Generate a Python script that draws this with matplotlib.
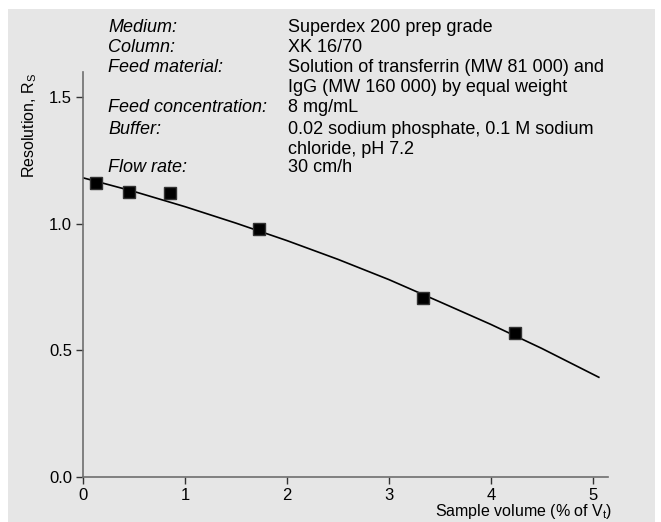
import matplotlib.pyplot as plt
from matplotlib.patches import Rectangle

# measured points
sample_vol = [0.125, 0.454, 0.85, 1.725, 3.34, 4.235]
resolution = [1.163, 1.126, 1.122, 0.978, 0.708, 0.568]

# fitted curve
fit_x = [0, 0.5, 1.0, 1.5, 2.0, 2.5, 3.0, 3.5, 4.0, 4.5, 5.06]
fit_y = [1.182, 1.128, 1.068, 1.003, 0.934, 0.860, 0.780, 0.692, 0.603, 0.508, 0.394]

x_ticks = [0, 1, 2, 3, 4, 5]
y_ticks = [0.0, 0.5, 1.0, 1.5]

labels = ["Medium:", "Column:", "Feed material:", "", "Feed concentration:",
          "Buffer:", "", "Flow rate:"]
values = ["Superdex 200 prep grade", "XK 16/70",
          "Solution of transferrin (MW 81 000) and",
          "IgG (MW 160 000) by equal weight", "8 mg/mL",
          "0.02 sodium phosphate, 0.1 M sodium", "chloride, pH 7.2", "30 cm/h"]
line_y = [28, 48, 68, 88, 108, 129, 149, 168]

W, H = 661, 522
plt.rcParams['font.family'] = ['Liberation Sans', 'DejaVu Sans']

fig = plt.figure(figsize=(W / 100, H / 100), dpi=100)
fig.patch.set_facecolor('white')
fig.patches.append(Rectangle((8 / W, 0), (655 - 8) / W, (H - 9) / H,
                             transform=fig.transFigure, facecolor='#e6e6e6',
                             edgecolor='none', zorder=-10))

ax = fig.add_axes([83 / W, (H - 477) / H, (608 - 83) / W, (477 - 72) / H])
ax.set_facecolor('none')

ax.plot(fit_x, fit_y, color='black', lw=1.2, zorder=2)
ax.plot(sample_vol, resolution, 's', color='black', markersize=9,
        markeredgecolor='#333333', zorder=3)

ax.set_xlim(0, 5.15)
ax.set_ylim(0, 1.6)
ax.set_xticks(x_ticks)
ax.set_xticklabels([str(t) for t in x_ticks])
ax.set_yticks(y_ticks)
ax.set_yticklabels(['%.1f' % t for t in y_ticks])
for s in ['top', 'right']:
    ax.spines[s].set_visible(False)
for s in ['left', 'bottom']:
    ax.spines[s].set_color('#6e6e6e')
    ax.spines[s].set_linewidth(1.2)
ax.tick_params(direction='out', length=5, width=1, color='#333333',
               labelsize=12, pad=3)

fig.text(30 / W, 1 - 125 / H, r'Resolution, R$_\mathregular{S}$', rotation=90,
         ha='center', va='center', fontsize=11.5)
fig.text(435 / W, 1 - 521 / H, r'Sample volume (% of V$_\mathregular{t}$)',
         ha='left', va='bottom', fontsize=11.5)

for lab, val, yy in zip(labels, values, line_y):
    if lab:
        fig.text(108 / W, 1 - yy / H, lab, style='italic', ha='left',
                 va='center', fontsize=13)
    fig.text(288 / W, 1 - yy / H, val, ha='left', va='center', fontsize=13)

fig.savefig('out.png', dpi=100)
